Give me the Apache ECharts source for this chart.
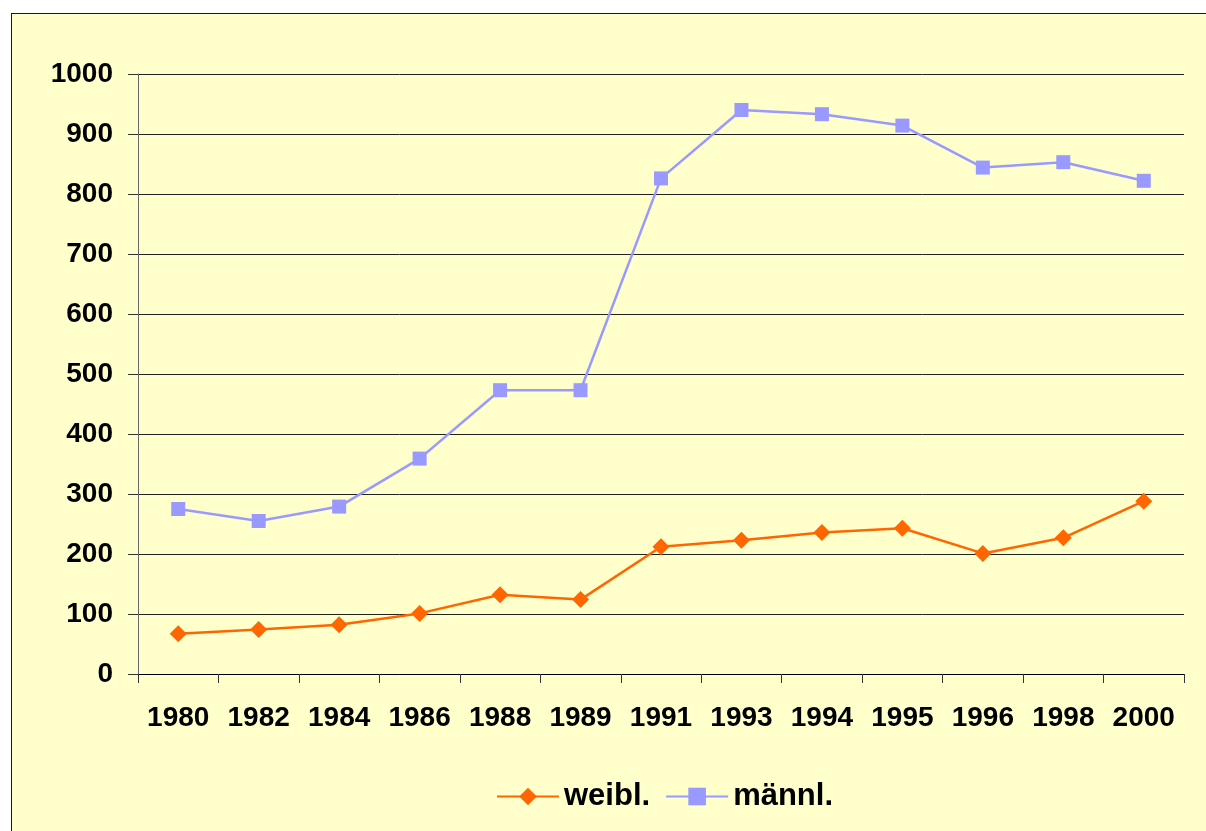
<!DOCTYPE html>
<html>
<head>
<meta charset="utf-8">
<script src="https://cdn.jsdelivr.net/npm/echarts@6/dist/echarts.min.js"></script>
<style>
  html, body { margin: 0; padding: 0; background: #ffffff; }
  #frame {
    position: absolute; left: 11px; top: 13px; width: 1300px; height: 900px;
    background: #FFFFCC; border: 1.5px solid #1a1a1a; box-sizing: border-box;
  }
  #chart { position: absolute; left: 0; top: 0; width: 1206px; height: 831px; }
</style>
</head>
<body>
<div id="frame"></div>
<div id="chart"></div>
<script>
// Jahre
const years = ['1980', '1982', '1984', '1986', '1988', '1989', '1991', '1993', '1994', '1995', '1996', '1998', '2000']
// weiblich
const weibl = [67, 74, 82, 101, 132, 124, 212, 223, 236, 243, 201, 227, 288]
// männlich
const maennl = [275, 255, 279, 359, 473, 473, 826, 940, 933, 914, 844, 853, 822]

const chart = echarts.init(document.getElementById('chart'))

const labelFont = { fontFamily: 'Liberation Sans, Arial, sans-serif', fontWeight: 'bold', color: '#000', fontSize: 28 }

chart.setOption({
  backgroundColor: 'transparent',
  animation: false,
  grid: { left: 138, right: 22, top: 74, bottom: 157 },
  legend: {
    bottom: 14,
    left: 491,
    itemWidth: 62,
    itemHeight: 22,
    itemGap: 15,
    textStyle: { ...labelFont, fontSize: 31 },
    data: ['weibl.', 'männl.']
  },
  xAxis: {
    type: 'category',
    data: years,
    boundaryGap: true,
    axisLine: { lineStyle: { color: '#000', width: 1 } },
    axisTick: { show: true, length: 9, alignWithLabel: false, lineStyle: { color: '#333' } },
    axisLabel: { ...labelFont, margin: 30, interval: 0 },
    splitLine: { show: false }
  },
  yAxis: {
    type: 'value',
    min: 0,
    max: 1000,
    interval: 100,
    axisLine: { show: true, lineStyle: { color: '#666', width: 1 } },
    axisTick: { show: true, length: 10, lineStyle: { color: '#333' } },
    axisLabel: { ...labelFont, margin: 25, formatter: v => String(v) },
    splitLine: { show: true, lineStyle: { color: '#222', width: 1 } }
  },
  series: [
    {
      name: 'weibl.',
      type: 'line',
      data: weibl,
      symbol: 'diamond',
      symbolSize: 17,
      itemStyle: { color: '#FF6600' },
      lineStyle: { color: '#FF6600', width: 2.5 }
    },
    {
      name: 'männl.',
      type: 'line',
      data: maennl,
      symbol: 'rect',
      symbolSize: 14,
      itemStyle: { color: '#9999FF' },
      lineStyle: { color: '#9999FF', width: 2.5 }
    }
  ]
})
</script>
</body>
</html>
